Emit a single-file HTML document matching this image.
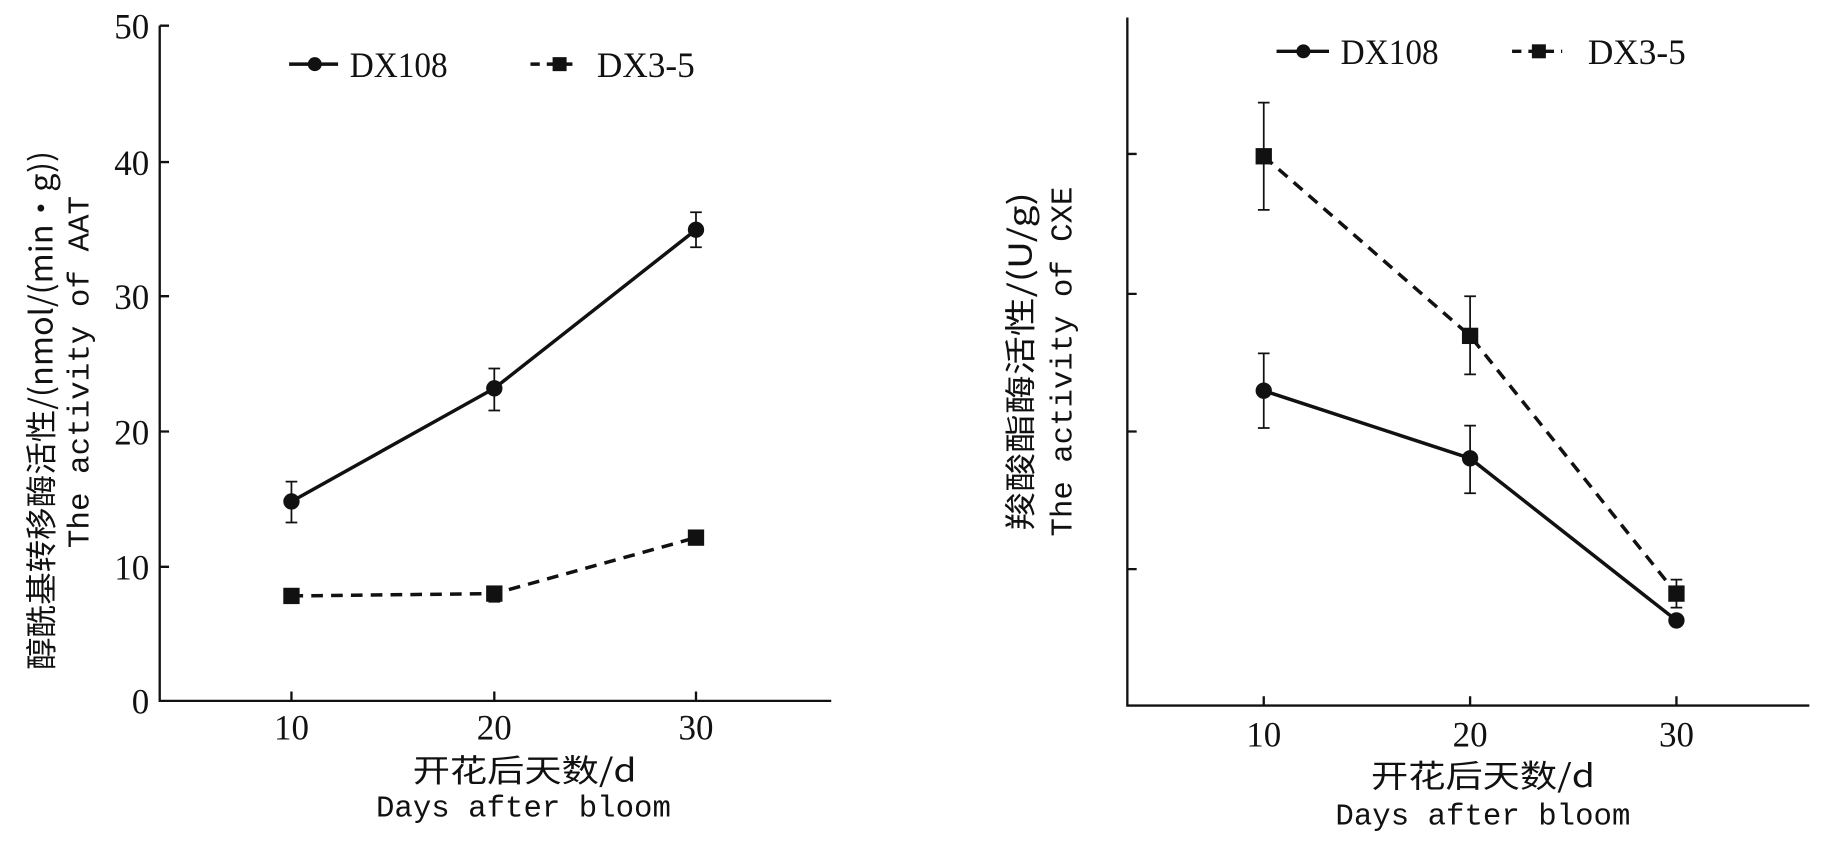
<!DOCTYPE html>
<html><head><meta charset="utf-8"><style>
html,body{margin:0;padding:0;background:#fff;}
svg{display:block;}
text{fill:#111;}
.t{font-family:"Liberation Serif","Noto Serif CJK SC",serif;font-size:31px;}
.m{font-family:"Liberation Mono","Noto Sans CJK SC",monospace;font-size:26px;}
.c{font-family:"Noto Sans CJK SC","Liberation Sans",sans-serif;font-size:27px;}
</style></head><body>
<svg width="1828" height="849" viewBox="0 0 1568 728" preserveAspectRatio="none" xmlns="http://www.w3.org/2000/svg">
<g stroke="#111" stroke-width="2" fill="none">
<path d="M137 22V601H713"/>
<path d="M137 22h8M137 139h8M137 254h8M137 370h8M137 486h8"/>
<path d="M250 601v-8M424 601v-8M597 601v-8"/>
<path d="M967 15V605H1552"/>
<path d="M967 132h8M967 252h8M967 370h8M967 488h8"/>
<path d="M1084 605v-8M1261 605v-8M1438 605v-8"/>
</g>
<g class="t" text-anchor="end">
<text x="128" y="33" textLength="30" lengthAdjust="spacingAndGlyphs">50</text><text x="128" y="150" textLength="30" lengthAdjust="spacingAndGlyphs">40</text><text x="128" y="265" textLength="30" lengthAdjust="spacingAndGlyphs">30</text>
<text x="128" y="381" textLength="30" lengthAdjust="spacingAndGlyphs">20</text><text x="128" y="497" textLength="30" lengthAdjust="spacingAndGlyphs">10</text><text x="128" y="612" textLength="15" lengthAdjust="spacingAndGlyphs">0</text>
</g>
<g class="t" text-anchor="middle">
<text x="250" y="634" textLength="30" lengthAdjust="spacingAndGlyphs">10</text><text x="424" y="634" textLength="30" lengthAdjust="spacingAndGlyphs">20</text><text x="597" y="634" textLength="30" lengthAdjust="spacingAndGlyphs">30</text>
<text x="1084" y="640" textLength="30" lengthAdjust="spacingAndGlyphs">10</text><text x="1261" y="640" textLength="30" lengthAdjust="spacingAndGlyphs">20</text><text x="1438" y="640" textLength="30" lengthAdjust="spacingAndGlyphs">30</text>
</g>
<g stroke="#111" stroke-width="3" fill="none">
<path d="M250 430L424 333L597 197"/>
<path d="M250 511L424 509L597 461" stroke-dasharray="10,7"/>
<path d="M1084 335L1261 393L1438 532"/>
<path d="M1084 134L1261 288L1438 509" stroke-dasharray="10,7"/>
</g>
<g stroke="#111" stroke-width="1.5">
<path d="M250 413V448M245 413h10M245 448h10"/>
<path d="M424 316V352M419 316h10M419 352h10"/>
<path d="M597 182V212M592 182h10M592 212h10"/>
<path d="M424 504V516M419 504h10M419 516h10"/>
<path d="M1084 303V367M1079 303h10M1079 367h10"/>
<path d="M1261 365V423M1256 365h10M1256 423h10"/>
<path d="M1084 88V180M1079 88h10M1079 180h10"/>
<path d="M1261 254V321M1256 254h10M1256 321h10"/>
<path d="M1438 497V521M1433 497h10M1433 521h10"/>
</g>
<g fill="#111">
<circle cx="250" cy="430" r="7"/><circle cx="424" cy="333" r="7"/><circle cx="597" cy="197" r="7"/>
<rect x="243" y="504" width="14" height="14"/><rect x="417" y="502" width="14" height="14"/><rect x="590" y="454" width="14" height="14"/>
<circle cx="1084" cy="335" r="7"/><circle cx="1261" cy="393" r="7"/><circle cx="1438" cy="532" r="7"/>
<rect x="1077" y="127" width="14" height="14"/><rect x="1254" y="281" width="14" height="14"/><rect x="1431" y="502" width="14" height="14"/>
</g>
<g stroke="#111" stroke-width="3">
<path d="M248 55H290"/><path d="M455 55H495" stroke-dasharray="8,6"/>
<path d="M1095 44H1140"/><path d="M1297 44H1340" stroke-dasharray="8,6"/>
</g>
<g fill="#111">
<circle cx="270" cy="55" r="6"/><rect x="474" y="49" width="12" height="12"/>
<circle cx="1118" cy="44" r="6"/><rect x="1314" y="38" width="12" height="12"/>
</g>
<g class="t">
<text x="300" y="66" textLength="84" lengthAdjust="spacingAndGlyphs">DX108</text><text x="512" y="66" textLength="84" lengthAdjust="spacingAndGlyphs">DX3-5</text>
<text x="1150" y="55" textLength="84" lengthAdjust="spacingAndGlyphs">DX108</text><text x="1362" y="55" textLength="84" lengthAdjust="spacingAndGlyphs">DX3-5</text>
</g>
<text class="c" text-anchor="middle" transform="translate(45,352) rotate(-90)" textLength="445" lengthAdjust="spacingAndGlyphs">醇酰基转移酶活性/(nmol/(min·g))</text>
<text class="m" text-anchor="middle" transform="translate(76,319) rotate(-90)" textLength="302" lengthAdjust="spacingAndGlyphs">The activity of AAT</text>
<text class="c" text-anchor="middle" x="450" y="670" textLength="192" lengthAdjust="spacingAndGlyphs">开花后天数/d</text>
<text class="m" text-anchor="middle" x="449" y="700" textLength="253" lengthAdjust="spacingAndGlyphs">Days after bloom</text>
<text class="c" text-anchor="middle" transform="translate(885,310) rotate(-90)" textLength="290" lengthAdjust="spacingAndGlyphs">羧酸酯酶活性/(U/g)</text>
<text class="m" text-anchor="middle" transform="translate(919,310) rotate(-90)" textLength="300" lengthAdjust="spacingAndGlyphs">The activity of CXE</text>
<text class="c" text-anchor="middle" x="1272" y="675" textLength="192" lengthAdjust="spacingAndGlyphs">开花后天数/d</text>
<text class="m" text-anchor="middle" x="1272" y="707" textLength="253" lengthAdjust="spacingAndGlyphs">Days after bloom</text>
</svg>
</body></html>
